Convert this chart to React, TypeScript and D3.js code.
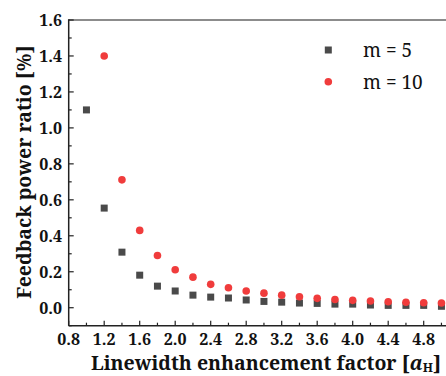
import React, { useEffect, useRef } from "react";
import * as d3 from "d3";

const xValues5 = [1.0, 1.2, 1.4, 1.6, 1.8, 2.0, 2.2, 2.4, 2.6, 2.8, 3.0, 3.2, 3.4, 3.6, 3.8, 4.0, 4.2, 4.4, 4.6, 4.8, 5.0];
const m5Values = [1.1, 0.554, 0.309, 0.181, 0.12, 0.093, 0.07, 0.059, 0.054, 0.043, 0.035, 0.031, 0.026, 0.024, 0.02, 0.02, 0.015, 0.013, 0.013, 0.013, 0.008];
const xValues10 = [1.2, 1.4, 1.6, 1.8, 2.0, 2.2, 2.4, 2.6, 2.8, 3.0, 3.2, 3.4, 3.6, 3.8, 4.0, 4.2, 4.4, 4.6, 4.8, 5.0];
const m10Values = [1.4, 0.711, 0.43, 0.29, 0.211, 0.17, 0.13, 0.111, 0.093, 0.081, 0.07, 0.061, 0.052, 0.046, 0.041, 0.037, 0.033, 0.03, 0.028, 0.026];
const xTicks = [0.8, 1.2, 1.6, 2.0, 2.4, 2.8, 3.2, 3.6, 4.0, 4.4, 4.8];
const yTicks = [0.0, 0.2, 0.4, 0.6, 0.8, 1.0, 1.2, 1.4, 1.6];
const legendLabels = ["m = 5", "m = 10"];

const W = 446;
const H = 376;
const left = 68.7;
const right = 446;
const top = 20;
const bottom = 325.7;
const serif = "'Noto Serif', 'Liberation Serif', serif";
const C5 = "#4a4a4a";
const C10 = "#f03c3c";

export default function App() {
  const ref = useRef<SVGSVGElement>(null);

  useEffect(() => {
    const svg = d3.select(ref.current);
    svg.selectAll("*").remove();

    const x = d3.scaleLinear().domain([0.8, 0.8 + (right - left) / 88.75]).range([left, right]);
    const y = d3.scaleLinear().domain([-0.1, 1.6]).range([bottom, top]);

    const g = svg.append("g");

    // frame top
    g.append("line").attr("x1", left).attr("x2", right).attr("y1", top).attr("y2", top)
      .attr("stroke", "#666").attr("stroke-width", 1.5);

    // ticks (inward)
    const xMinor = d3.range(0, 22).map((i) => 0.8 + i * 0.2).filter((v) => x(v) <= right);
    xMinor.forEach((v) => {
      const major = xTicks.some((t) => Math.abs(t - v) < 1e-6);
      g.append("line").attr("x1", x(v)).attr("x2", x(v)).attr("y1", bottom).attr("y2", bottom - (major ? 5 : 3))
        .attr("stroke", "#222").attr("stroke-width", 1.2);
    });
    const yMinor = d3.range(0, 18).map((i) => -0.1 + i * 0.1);
    yMinor.forEach((v) => {
      const major = yTicks.some((t) => Math.abs(t - v) < 1e-6);
      g.append("line").attr("x1", left).attr("x2", left + (major ? 5 : 3)).attr("y1", y(v)).attr("y2", y(v))
        .attr("stroke", "#222").attr("stroke-width", 1.2);
    });

    // axis lines
    g.append("line").attr("x1", left).attr("x2", left).attr("y1", top - 0.7).attr("y2", bottom)
      .attr("stroke", "#222").attr("stroke-width", 1.5);
    g.append("line").attr("x1", left).attr("x2", right).attr("y1", bottom).attr("y2", bottom)
      .attr("stroke", "#222").attr("stroke-width", 1.5);

    // tick labels
    g.selectAll(".xl").data(xTicks).enter().append("text")
      .attr("x", (d) => x(d)).attr("y", 345).attr("text-anchor", "middle")
      .attr("font-family", serif).attr("font-weight", "bold").attr("font-size", 16)
      .attr("fill", "#111").text((d) => d.toFixed(1));
    g.selectAll(".yl").data(yTicks).enter().append("text")
      .attr("x", 62).attr("y", (d) => y(d) + 6).attr("text-anchor", "end")
      .attr("font-family", serif).attr("font-weight", "bold").attr("font-size", 16)
      .attr("fill", "#111").text((d) => d.toFixed(1));

    // titles
    const xt = g.append("text").attr("x", 266).attr("y", 369.5).attr("text-anchor", "middle")
      .attr("font-family", serif).attr("font-weight", "bold").attr("font-size", 19.5).attr("fill", "#111");
    xt.append("tspan").text("Linewidth enhancement factor [");
    xt.append("tspan").attr("font-style", "italic").text("a");
    xt.append("tspan").attr("font-size", 12.5).attr("dy", 2).text("H");
    xt.append("tspan").attr("dy", -2).text("]");

    g.append("text").attr("transform", "translate(31,172) rotate(-90)").attr("text-anchor", "middle")
      .attr("font-family", serif).attr("font-weight", "bold").attr("font-size", 19.5).attr("fill", "#111")
      .text("Feedback power ratio [%]");

    // data
    const s = 7;
    g.selectAll(".sq").data(xValues5.map((v, i) => [v, m5Values[i]])).enter().append("rect")
      .attr("x", (d) => x(d[0]) - s / 2).attr("y", (d) => y(d[1]) - s / 2)
      .attr("width", s).attr("height", s).attr("fill", C5);
    g.selectAll(".ci").data(xValues10.map((v, i) => [v, m10Values[i]])).enter().append("circle")
      .attr("cx", (d) => x(d[0])).attr("cy", (d) => y(d[1])).attr("r", 3.8).attr("fill", C10);

    // legend
    g.append("rect").attr("x", 328.3 - s / 2).attr("y", 50 - s / 2).attr("width", s).attr("height", s).attr("fill", C5);
    g.append("circle").attr("cx", 328.3).attr("cy", 81.7).attr("r", 3.8).attr("fill", C10);
    legendLabels.forEach((t, i) => {
      g.append("text").attr("x", 363).attr("y", 57 + i * 31.5)
        .attr("font-family", serif).attr("font-size", 19)
        .attr("fill", "#111").text(t);
    });
  }, []);

  return (
    <svg ref={ref} width={W} height={H} style={{ position: "absolute", left: 0, top: 0, background: "#fff" }} />
  );
}
